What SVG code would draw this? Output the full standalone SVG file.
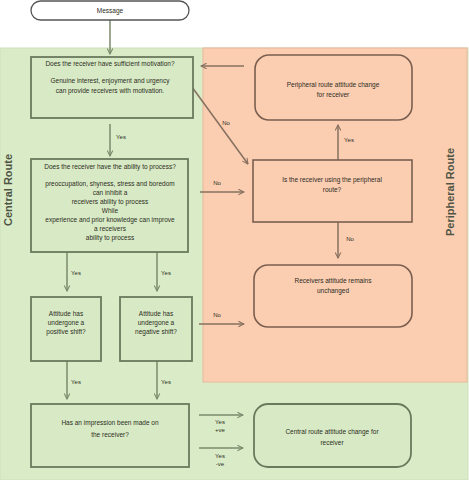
<svg xmlns="http://www.w3.org/2000/svg" width="469" height="480" viewBox="0 0 469 480">
<defs>
<style>
text{font-family:"Liberation Sans",Arial,sans-serif;font-size:6.5px;fill:#2c2c24;text-anchor:middle}
.lbl{font-size:6px}
.side{font-size:11px;fill:#4e5444;font-weight:bold}
.gbox{fill:#d8eac5;stroke:#6a795c;stroke-width:1.8}
.pbox{fill:#fbcdb1;stroke:#7a5f50;stroke-width:1.6}
.g{stroke:#7a8a6d;stroke-width:1.5;fill:none}
.p{stroke:#86705f;stroke-width:1.5;fill:none}
</style>
<marker id="ag" viewBox="0 0 10 10" refX="9" refY="5" markerWidth="7" markerHeight="7" markerUnits="userSpaceOnUse" orient="auto"><path d="M1,1 L9,5 L1,9" fill="none" stroke="#7a8a6d" stroke-width="1.5"/></marker>
<marker id="ap" viewBox="0 0 10 10" refX="9" refY="5" markerWidth="7" markerHeight="7" markerUnits="userSpaceOnUse" orient="auto"><path d="M1,1 L9,5 L1,9" fill="none" stroke="#86705f" stroke-width="1.5"/></marker>
</defs>
<rect width="469" height="480" fill="#ffffff"/>
<g id="regions">
<rect x="0" y="48" width="468" height="432" fill="#d9ebc7" stroke="#cfe0bb"/>
<rect x="203" y="48" width="264" height="334" fill="#fbcdb1" stroke="#e8b89c"/>
<text class="side" transform="translate(12,190) rotate(-90)">Central Route</text>
<text class="side" transform="translate(454,192) rotate(-90)">Peripheral Route</text>
</g>
<g id="connectors">
<line class="g" x1="110" y1="20" x2="110" y2="54" marker-end="url(#ag)"/>
<line class="g" x1="110" y1="124" x2="110" y2="156" marker-end="url(#ag)"/>
<text class="lbl" x="121" y="139">Yes</text>
<line class="p" x1="244" y1="66" x2="201" y2="66" marker-end="url(#ap)"/>
<line class="p" x1="192" y1="87" x2="248" y2="164" marker-end="url(#ap)"/>
<text class="lbl" x="226" y="125">No</text>
<line class="p" x1="200" y1="192" x2="244" y2="192" marker-end="url(#ap)"/>
<text class="lbl" x="217" y="185">No</text>
<line class="p" x1="338" y1="160" x2="338" y2="125" marker-end="url(#ap)"/>
<text class="lbl" x="349" y="142">Yes</text>
<line class="p" x1="338" y1="222" x2="338" y2="258" marker-end="url(#ap)"/>
<text class="lbl" x="350" y="241">No</text>
<line class="g" x1="67" y1="252" x2="67" y2="291" marker-end="url(#ag)"/>
<text class="lbl" x="76" y="275">Yes</text>
<line class="g" x1="157" y1="252" x2="157" y2="291" marker-end="url(#ag)"/>
<text class="lbl" x="166" y="275">Yes</text>
<line class="p" x1="199" y1="324" x2="244" y2="324" marker-end="url(#ap)"/>
<text class="lbl" x="217" y="317">No</text>
<line class="g" x1="67" y1="361" x2="67" y2="399" marker-end="url(#ag)"/>
<text class="lbl" x="76" y="384">Yes</text>
<line class="g" x1="157" y1="361" x2="157" y2="399" marker-end="url(#ag)"/>
<text class="lbl" x="166" y="384">Yes</text>
<line class="g" x1="199" y1="415" x2="243" y2="415" marker-end="url(#ag)"/>
<text class="lbl" x="220" y="424">Yes</text>
<text class="lbl" x="220" y="432">+ve</text>
<line class="g" x1="199" y1="448" x2="243" y2="448" marker-end="url(#ag)"/>
<text class="lbl" x="220" y="458">Yes</text>
<text class="lbl" x="220" y="466">-ve</text>
</g>
<g id="message">
<rect x="31" y="1" width="158" height="19" rx="9.5" fill="#ffffff" stroke="#555555" stroke-width="1.3"/>
<text x="110" y="13">Message</text>
</g>
<g id="motivation">
<rect class="gbox" x="31" y="57" width="162" height="61"/>
<text x="110" y="66">Does the receiver have sufficient motivation?</text>
<text x="110" y="83">Genuine interest, enjoyment and urgency</text>
<text x="110" y="93">can provide receivers with motivation.</text>
</g>
<g id="ability">
<rect class="gbox" x="31" y="159" width="157" height="93"/>
<text x="110" y="169">Does the receiver have the ability to process?</text>
<text x="110" y="186">preoccupation, shyness, stress and boredom</text>
<text x="110" y="195">can inhibit a</text>
<text x="110" y="204">receivers ability to process</text>
<text x="110" y="213">While</text>
<text x="110" y="222">experience and prior knowledge can improve</text>
<text x="110" y="231">a receivers</text>
<text x="110" y="240">ability to process</text>
</g>
<g id="positive">
<rect class="gbox" x="31" y="297" width="70" height="64"/>
<text x="66" y="316">Attitude has</text>
<text x="66" y="325">undergone a</text>
<text x="66" y="334">positive shift?</text>
</g>
<g id="negative">
<rect class="gbox" x="120" y="297" width="72" height="64"/>
<text x="156" y="316">Attitude has</text>
<text x="156" y="325">undergone a</text>
<text x="156" y="334">negative shift?</text>
</g>
<g id="impression">
<rect class="gbox" x="31" y="404" width="158" height="63"/>
<text x="110" y="425">Has an impression been made on</text>
<text x="110" y="437">the receiver?</text>
</g>
<g id="central-change">
<rect class="gbox" x="254" y="404" width="157" height="63" rx="14"/>
<text x="332" y="434">Central route attitude change for</text>
<text x="332" y="445">receiver</text>
</g>
<g id="peripheral-change">
<rect class="pbox" x="255" y="55" width="157" height="65" rx="14"/>
<text x="333" y="87">Peripheral route attitude change</text>
<text x="333" y="97">for receiver</text>
</g>
<g id="peripheral-question">
<rect class="pbox" x="253" y="160" width="159" height="62"/>
<text x="332" y="182">Is the receiver using the peripheral</text>
<text x="332" y="192">route?</text>
</g>
<g id="unchanged">
<rect class="pbox" x="254" y="265" width="158" height="62" rx="14"/>
<text x="333" y="283">Receivers attitude remains</text>
<text x="333" y="293">unchanged</text>
</g>
</svg>
